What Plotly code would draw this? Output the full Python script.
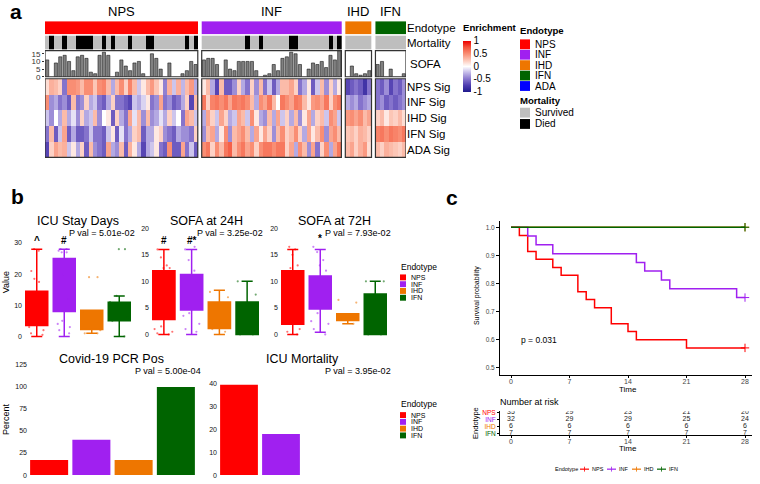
import plotly.graph_objects as go

W, H = 760, 484
FONT = "Liberation Sans, Arial, Helvetica, sans-serif"


def X(p):
    return p / W


def Y(p):
    return 1 - p / H


# ------------------------------------------------------------------ data
groups = ["NPS", "INF", "IHD", "IFN"]
colors = {"NPS": "#FF0000", "INF": "#A020F0", "IHD": "#EE7600", "IFN": "#006400", "ADA": "#0000FF"}
sig_names = ["NPS Sig", "INF Sig", "IHD Sig", "IFN Sig", "ADA Sig"]

# panel a : enrichment scores (rows = signatures, columns = patients)
enrich_nps = [
    [0.15, 0.35, 0.3, 0.2, -0.5, 0.5, 0.5, 0.45, 0.3, 0.5, 0.5, 0.25, 0.5, 0.55, 0.3, -0.3, 0.3, 0.5, 0.2, 0.55, 0.3, -0.2, 0.1, 0.3, 0.45, 0.25, 0.1, -0.45, 0.35, -0.2, 0.35, -0.25, 0.3, 0.45, -0.3],
    [0.5, -0.4, -0.3, -0.5, -0.4, -0.6, 0.3, -0.5, -0.4, 0.2, -0.3, -0.2, -0.5, -0.6, -0.3, 0.2, -0.5, -0.5, -0.6, -0.7, -0.2, -0.3, -0.15, 0.1, -0.5, -0.4, 0.4, -0.5, -0.4, -0.6, -0.5, -0.3, 0.2, -0.7, 0.3],
    [-0.2, -0.4, 0.0, -0.3, 0.3, -0.3, -0.1, -0.4, 0.2, -0.3, -0.2, 0.3, -0.4, 0.0, 0.1, -0.6, 0.2, -0.3, -0.5, 0.4, -0.1, 0.3, -0.4, 0.3, -0.4, -0.3, -0.1, -0.3, 0.2, -0.2, 0.0, -0.5, 0.4, 0.3, -0.2],
    [-0.5, 0.3, -0.6, -0.2, 0.4, -0.6, -0.3, -0.6, -0.6, -0.5, -0.2, -0.5, -0.5, -0.6, -0.2, 0.1, -0.6, -0.1, -0.5, -0.3, 0.2, 0.3, -0.6, -0.3, -0.3, 0.1, 0.2, -0.4, -0.5, -0.6, -0.3, -0.4, -0.4, -0.5, 0.2],
    [-0.7, 0.2, 0.4, 0.3, 0.35, -0.2, 0.1, -0.3, 0.2, -0.6, 0.3, -0.4, -0.5, -0.6, 0.4, -0.3, -0.4, 0.3, -0.6, 0.35, 0.1, -0.3, -0.7, -0.3, -0.2, 0.1, -0.5, -0.6, 0.5, -0.6, -0.6, 0.4, -0.5, -0.2, -0.6],
]
enrich_inf = [
    [0.1, 0.3, -0.3, -0.7, 0.3, -0.6, -0.6, -0.4, 0.2, -0.3, -0.5, 0.2, -0.4, 0.3, -0.5, -0.2, -0.6, -0.3, 0.3, 0.3, 0.4, 0.2, -0.5, -0.3, 0.1, -0.6, -0.2, 0.3, -0.4, 0.2, -0.3, 0.1],
    [0.6, 0.2, 0.55, 0.6, 0.5, 0.6, 0.4, 0.6, 0.55, 0.6, 0.5, 0.3, -0.3, 0.5, 0.4, 0.6, 0.3, 0.0, 0.6, 0.5, 0.4, 0.6, 0.55, 0.3, 0.1, 0.45, 0.5, 0.4, 0.6, 0.2, 0.5, 0.6],
    [-0.3, 0.4, 0.2, -0.2, 0.4, 0.2, -0.3, -0.2, 0.4, 0.3, -0.2, 0.5, 0.1, -0.3, -0.4, 0.3, -0.3, 0.4, -0.2, 0.2, -0.3, 0.3, -0.4, 0.1, 0.4, -0.3, 0.2, 0.3, -0.2, 0.5, 0.4, -0.2],
    [-0.4, 0.3, 0.4, -0.3, 0.1, 0.5, -0.4, 0.3, 0.4, 0.5, 0.3, -0.3, 0.4, 0.1, 0.4, 0.2, -0.4, 0.3, 0.5, 0.2, 0.3, 0.5, 0.2, -0.3, 0.4, 0.1, 0.3, 0.5, -0.4, 0.4, 0.5, 0.3],
    [0.5, 0.6, 0.2, 0.5, 0.3, 0.6, 0.7, 0.3, 0.5, 0.6, 0.4, 0.5, 0.2, 0.5, 0.6, 0.6, 0.5, 0.6, 0.6, 0.2, 0.4, -0.3, 0.5, 0.3, -0.4, 0.4, -0.5, 0.2, 0.5, -0.3, 0.4, 0.6],
]
enrich_ihd = [
    [-0.7, -0.6, -0.5, -0.6, -0.8, -0.5],
    [-0.3, -0.4, -0.3, -0.5, -0.4, -0.3],
    [0.45, 0.5, 0.4, 0.5, 0.3, 0.4],
    [0.25, 0.3, 0.2, 0.35, 0.3, 0.2],
    [0.3, 0.4, 0.2, 0.35, 0.45, 0.15],
]
enrich_ifn = [
    [-0.5, -0.6, -0.4, -0.7, -0.5, -0.6, -0.4],
    [-0.5, -0.4, -0.6, -0.5, -0.6, -0.5, -0.4],
    [0.2, 0.3, 0.1, 0.25, 0.2, 0.3, 0.15],
    [0.55, 0.6, 0.5, 0.6, 0.55, 0.5, 0.6],
    [0.3, 0.2, 0.35, 0.3, 0.25, 0.2, 0.3],
]
died_nps = [0, 1, 0, 0, 1, 0, 0, 1, 1, 1, 1, 0, 0, 1, 0, 1, 0, 0, 0, 1, 0, 0, 0, 1, 1, 0, 0, 0, 0, 0, 0, 0, 1, 0, 1]
died_inf = [0, 0, 0, 0, 0, 0, 0, 0, 0, 0, 1, 0, 0, 1, 0, 0, 0, 0, 0, 0, 1, 1, 0, 0, 0, 0, 0, 0, 0, 1, 0, 1]
died_ihd = [0, 0, 0, 0, 0, 0]
died_ifn = [0, 0, 0, 0, 0, 0, 0]
sofa_nps = [11, None, 9, 13, 14, 10, 4, 13, 14, 12, 3, 2, 14, 16, 14, None, 3, 11, 7, 4, 9, 10, 2, None, 15, 12, 5, None, 9, None, None, 2, 4, 10, 8]
sofa_inf = [11, 12, 12, 8, None, 11, 5, 4, 10, 10, 10, 10, 4, None, 1, 2, 8, 4, 12, 13, 16, 15, 8, None, 5, 9, 8, 10, 6, 14, 11, 17]
sofa_ihd = [None, 7, 2, 1, 2, 4]
sofa_ifn = [8, 10, None, 5, None, None, 2]

enrich = {"NPS": enrich_nps, "INF": enrich_inf, "IHD": enrich_ihd, "IFN": enrich_ifn}
died = {"NPS": died_nps, "INF": died_inf, "IHD": died_ihd, "IFN": died_ifn}
sofa = {"NPS": sofa_nps, "INF": sofa_inf, "IHD": sofa_ihd, "IFN": sofa_ifn}

# panel b : box plot summaries (order = groups)
icu_q1 = [3.5, 8, 2.2, 5]
icu_med = [7, 15, 5, 8]
icu_q3 = [14.5, 25, 8.4, 11]
icu_lo = [0, 0, 1, 0]
icu_hi = [28, 28, 8.4, 13]
icu_pts = {"NPS": [28, 27.5, 21, 18.5, 17.5, 14, 3, 2, 1, 0.5, 5, 8],
           "INF": [28, 28, 27.5, 27, 27, 5, 4, 3, 2, 1, 12, 20],
           "IHD": [19, 19, 8, 2, 1, 1],
           "IFN": [28, 28, 13, 11, 6, 5, 0]}
s24_q1 = [2.8, 4.6, 1.1, 0]
s24_med = [8, 8, 4, 3]
s24_q3 = [12, 11.3, 6.1, 6.1]
s24_lo = [0, 0, 0, 0]
s24_hi = [16, 16, 8.3, 10]
s24_pts = {"NPS": [16, 14.5, 13, 12.5, 12.5, 1, 1.5, 0.5, 0, 0.2],
           "INF": [16.5, 16, 14, 12, 11, 10, 4, 3.5, 2, 1, 0.5],
           "IHD": [7, 8, 1, 0.5],
           "IFN": [10, 7.5, 0, 0]}
s72_q1 = [1.9, 4.8, 2.6, 0]
s72_med = [7, 8, 3, 4]
s72_q3 = [12, 11, 3.9, 7.6]
s72_lo = [0, 0.4, 2, 0]
s72_hi = [16, 16, 3.9, 10]
s72_pts = {"NPS": [16.5, 16, 15, 13, 12.5, 9, 0, 0.5, 1],
           "INF": [16.5, 15.5, 14, 13, 12, 4, 2.5, 2, 1, 0],
           "IHD": [6, 6.5, 3, 2],
           "IFN": [10, 10, 0, 0]}
covid_pct = [17, 40, 17, 100]
mort_pct = [39.5, 18, 0, 0]

# panel c : Kaplan-Meier
km_time = {"NPS": [0, 1, 2, 3, 5, 6, 8, 9, 10, 12, 14, 15, 21, 28],
           "INF": [0, 2, 3, 5, 15, 16, 18, 19, 27, 28],
           "IHD": [0, 28],
           "IFN": [0, 28]}
km_surv = {"NPS": [1, 0.971, 0.914, 0.886, 0.857, 0.829, 0.771, 0.743, 0.714, 0.657, 0.629, 0.600, 0.571, 0.571],
           "INF": [1, 0.969, 0.938, 0.906, 0.875, 0.844, 0.812, 0.781, 0.750, 0.750],
           "IHD": [1, 1],
           "IFN": [1, 1]}
risk_times = [0, 7, 14, 21, 28]
risk_counts = {"NPS": [35, 29, 23, 21, 20],
               "INF": [32, 29, 29, 25, 24],
               "IHD": [6, 6, 6, 6, 6],
               "IFN": [7, 7, 7, 7, 7]}

# ------------------------------------------------------------------ helpers
def rng(dom_top, dom_bot, v0, p0, v1, p1):
    s = (p0 - p1) / (v1 - v0)
    return [v0 - (dom_bot - p0) / s, v0 + (p0 - dom_top) / s]


def xrng(dom_l, dom_r, v0, p0, v1, p1):
    s = (p1 - p0) / (v1 - v0)
    return [v0 - (p0 - dom_l) / s, v0 + (dom_r - p0) / s]


annotations = []
shapes = []


def txt(text, x, y, size, xanchor="center", yanchor="middle", color="#000000", bold=False, angle=0):
    annotations.append(dict(text=f"<b>{text}</b>" if bold else text, x=X(x), y=Y(y), xref="paper", yref="paper",
                            xanchor=xanchor, yanchor=yanchor, showarrow=False, textangle=angle,
                            font=dict(size=size, color=color, family=FONT), borderpad=0))


def rect(x0, y0, x1, y1, color, line=None):
    shapes.append(dict(type="rect", xref="paper", yref="paper", x0=X(x0), x1=X(x1), y0=Y(y1), y1=Y(y0),
                       fillcolor=color, line=dict(width=0) if line is None else line))


fig = go.Figure()

# ------------------------------------------------------------------ panel a
gap = 0.9
offsets = {}
start = 0
for g in groups:
    offsets[g] = start
    start += len(died[g]) + gap
total = start - gap

for g in groups:
    n = len(died[g])
    xs = [offsets[g] + i for i in range(n)]
    fig.add_trace(go.Heatmap(z=enrich[g], x=xs, y=sig_names, coloraxis="coloraxis", xaxis="x", yaxis="y",
                             hoverinfo="skip"))
    fig.add_trace(go.Heatmap(z=[died[g]], x=xs, y=["Mortality"], xaxis="x", yaxis="y3", zmin=0, zmax=1,
                             colorscale=[[0, "#BEBEBE"], [1, "#000000"]], showscale=False, hoverinfo="skip"))
    fig.add_trace(go.Heatmap(z=[[1] * n], x=xs, y=["Endotype"], xaxis="x", yaxis="y4", zmin=0, zmax=1,
                             colorscale=[[0, colors[g]], [1, colors[g]]], showscale=False, hoverinfo="skip"))
    fig.add_trace(go.Bar(x=xs, y=sofa[g], xaxis="x", yaxis="y2", width=0.72,
                         marker=dict(color="#808080", line=dict(color="#1a1a1a", width=0.6)), hoverinfo="skip"))
    x0, x1 = offsets[g] - 0.5, offsets[g] + n - 0.5
    for yr in ("y domain", "y2 domain"):
        shapes.append(dict(type="rect", xref="x", yref=yr, x0=x0, x1=x1, y0=0, y1=1,
                           line=dict(color="#333333", width=1.2), fillcolor="rgba(0,0,0,0)"))
    annotations.append(dict(text=g, x=(x0 + x1) / 2, xref="x", y=Y(8.5), yref="paper", showarrow=False,
                            xanchor="center", yanchor="middle", font=dict(size=13, family=FONT, color="#000")))

txt("SOFA", 409, 62, 11.5, xanchor="left")

# colorbar title
txt("Enrichment", 462, 25, 9.6, xanchor="left", bold=True)

# panel a legends
txt("Endotype", 519, 28, 9.6, xanchor="left", bold=True)
for i, g in enumerate(["NPS", "INF", "IHD", "IFN", "ADA"]):
    c = 42 + 10.6 * i
    rect(520, c - 5, 530, c + 5, colors[g])
    txt(g, 534, c, 10, xanchor="left")
txt("Mortality", 519, 99, 9.6, xanchor="left", bold=True)
for i, (lab, col) in enumerate([("Survived", "#BEBEBE"), ("Died", "#000000")]):
    c = 111.5 + 11.5 * i
    rect(520, c - 5, 530, c + 5, col)
    txt(lab, 534, c, 10, xanchor="left")

# ------------------------------------------------------------------ panel b
box_panels = [
    ("x2", "y5", icu_q1, icu_med, icu_q3, icu_lo, icu_hi, icu_pts),
    ("x3", "y6", s24_q1, s24_med, s24_q3, s24_lo, s24_hi, s24_pts),
    ("x4", "y7", s72_q1, s72_med, s72_q3, s72_lo, s72_hi, s72_pts),
]
for xa, ya, q1, med, q3, lo, hi, pts in box_panels:
    for i, g in enumerate(groups):
        fig.add_trace(go.Box(x=[g], q1=[q1[i]], median=[med[i]], q3=[q3[i]], lowerfence=[lo[i]],
                             upperfence=[hi[i]], xaxis=xa, yaxis=ya, width=0.8, boxpoints=False,
                             fillcolor=colors[g], line=dict(color=colors[g], width=1.5), hoverinfo="skip"))
        fig.add_trace(go.Box(x=[g] * len(pts[g]), y=pts[g], xaxis=xa, yaxis=ya, width=0.8, boxpoints="all",
                             jitter=1, pointpos=0, fillcolor="rgba(0,0,0,0)",
                             line=dict(color="rgba(0,0,0,0)", width=0),
                             marker=dict(color=colors[g], size=2.2, opacity=0.55), hoverinfo="skip"))

for xa, ya, vals in [("x5", "y8", covid_pct), ("x6", "y9", mort_pct)]:
    fig.add_trace(go.Bar(x=groups, y=vals, xaxis=xa, yaxis=ya, width=0.9,
                         marker=dict(color=[colors[g] for g in groups], line=dict(width=0)), hoverinfo="skip"))

# titles / p values
txt("ICU Stay Days", 78, 222, 12.5)
txt("SOFA at 24H", 206, 222, 12.5)
txt("SOFA at 72H", 334, 222, 12.5)
txt("Covid-19 PCR Pos", 112, 362, 12.5)
txt("ICU Mortality", 302, 362, 12.5)
txt("P val = 5.01e-02", 136, 233.5, 9, xanchor="right")
txt("P val = 3.25e-02", 264, 233.5, 9, xanchor="right")
txt("P val = 7.93e-02", 392, 233.5, 9, xanchor="right")
txt("P val = 5.00e-04", 202, 374, 9, xanchor="right")
txt("P val = 3.95e-02", 392, 374, 9, xanchor="right")
for xa, g, s, yy in [("x2", "NPS", "^", 241), ("x2", "INF", "#", 241), ("x3", "NPS", "#", 241),
                     ("x3", "INF", "#*", 241), ("x4", "INF", "*", 239)]:
    annotations.append(dict(text=f"<b>{s}</b>", x=g, xref=xa, y=Y(yy), yref="paper", showarrow=False,
                            xanchor="center", yanchor="middle", font=dict(size=10, family=FONT, color="#000")))
txt("Value", 6, 284, 9, angle=-90)
txt("Percent", 6, 423, 9, angle=-90)

for ytitle in (268, 408):
    txt("Endotype", 400, ytitle, 8.5, xanchor="left")
    for i, g in enumerate(groups):
        c = ytitle + 11 + 6.9 * i
        rect(400, c - 3, 406, c + 3, colors[g])
        txt(g, 410, c, 7, xanchor="left")

# ------------------------------------------------------------------ panel c
for g in ["NPS", "INF", "IHD", "IFN"]:
    fig.add_trace(go.Scatter(x=km_time[g], y=km_surv[g], mode="lines", line=dict(color=colors[g], width=1.5, shape="hv"),
                             xaxis="x7", yaxis="y10", hoverinfo="skip"))
    fig.add_trace(go.Scatter(x=[km_time[g][-1]], y=[km_surv[g][-1]], mode="markers", xaxis="x7", yaxis="y10",
                             marker=dict(symbol="cross-thin", size=6, line=dict(color=colors[g], width=1)),
                             hoverinfo="skip"))
    fig.add_trace(go.Scatter(x=risk_times, y=[g] * len(risk_times), text=[str(v) for v in risk_counts[g]],
                             mode="text", textfont=dict(size=7, family=FONT, color="#222"),
                             xaxis="x8", yaxis="y11", hoverinfo="skip"))

txt("p = 0.031", 520, 343, 8.5, xanchor="left")
txt("Survival probability", 477, 298, 7, angle=-90)
txt("Time", 628, 393, 8)
txt("Number at risk", 499, 406, 9, xanchor="left")
txt("Endotype", 476, 427, 7.5, angle=-90)
txt("Time", 628, 453, 8)

# bottom KM legend
txt("Endotype", 554, 474, 5.5, xanchor="left")
for g, lx, tx in [("NPS", 580, 591), ("INF", 607, 618), ("IHD", 632, 643), ("IFN", 657, 668)]:
    shapes.append(dict(type="line", xref="paper", yref="paper", x0=X(lx), x1=X(lx + 9), y0=Y(474), y1=Y(474),
                       line=dict(color=colors[g], width=1.2)))
    shapes.append(dict(type="line", xref="paper", yref="paper", x0=X(lx + 4.5), x1=X(lx + 4.5), y0=Y(471.5), y1=Y(476.5),
                       line=dict(color=colors[g], width=0.8)))
    txt(g, tx, 474, 5.5, xanchor="left")

# panel labels
txt("a", 16, 9, 21, bold=True)
txt("b", 17, 197, 21, bold=True)
txt("c", 452, 198, 21, bold=True)

# ------------------------------------------------------------------ axes
tick_small = dict(size=7, family=FONT, color="#111111")
hidden_x = dict(showticklabels=False, showgrid=False, zeroline=False, showline=False, ticks="",
                type="category", categoryorder="array", categoryarray=groups, range=[-0.5, 3.5], fixedrange=True)


def ybox(anchor, dom_top, dom_bot, r, tickvals):
    return dict(anchor=anchor, domain=[Y(dom_bot), Y(dom_top)], range=r, tickvals=tickvals, showgrid=False,
                zeroline=False, showline=False, ticks="", tickfont=tick_small)


colorscale = [[0, "#1F1A8C"], [0.125, "#4B3AAE"], [0.25, "#8573CC"], [0.375, "#C0B6E7"], [0.5, "#FFFFFF"],
              [0.625, "#FCC6B6"], [0.75, "#F98E74"], [0.875, "#F4563E"], [1, "#EE0000"]]

km_x = dict(range=xrng(500, 752, 0, 511, 28, 745), tickvals=risk_times, showline=True, linecolor="#000",
            linewidth=1, ticks="outside", ticklen=2, tickcolor="#000", showgrid=False, zeroline=False,
            ticklabelstandoff=-2, tickfont=dict(size=7, family=FONT, color="#444"))

layout = dict(
    width=W, height=H, margin=dict(l=0, r=0, t=0, b=0), paper_bgcolor="white", plot_bgcolor="white",
    showlegend=False, boxmode="overlay", barmode="overlay", font=dict(family=FONT),
    coloraxis=dict(colorscale=colorscale, cmin=-1, cmax=1,
                   colorbar=dict(x=X(463), xanchor="left", y=Y(90), yanchor="bottom", len=51, lenmode="pixels",
                                 thickness=8, thicknessmode="pixels", xpad=0, ypad=0, outlinewidth=0,
                                 tickvals=[1, 0.5, 0, -0.5, -1], ticktext=["1", "0.5", "0", "-0.5", "-1"],
                                 ticks="", tickfont=dict(size=10, family=FONT, color="#000"))),
    xaxis=dict(domain=[X(45), X(406)], range=[-0.5, total - 0.5], anchor="y", showticklabels=False, ticks="",
               showgrid=False, zeroline=False, showline=False),
    yaxis=dict(domain=[Y(157), Y(77)], anchor="x", side="right", type="category", autorange="reversed",
               showgrid=False, zeroline=False, ticks="", tickfont=dict(size=11.5, family=FONT, color="#000")),
    yaxis2=dict(domain=[Y(75), Y(48.5)], anchor="x", range=[0, 17], tickvals=[0, 5, 10, 15], showgrid=False,
                zeroline=False, ticks="outside", ticklen=2, tickcolor="#333",
                tickfont=dict(size=8, family=FONT, color="#333")),
    yaxis3=dict(domain=[Y(47.5), Y(33)], anchor="x", side="right", type="category", showgrid=False, zeroline=False,
                ticks="", tickfont=dict(size=11.5, family=FONT, color="#000")),
    yaxis4=dict(domain=[Y(32), Y(18.5)], anchor="x", side="right", type="category", showgrid=False, zeroline=False,
                ticks="", tickfont=dict(size=11.5, family=FONT, color="#000")),
    xaxis2=dict(hidden_x, domain=[X(23), X(133)], anchor="y5"),
    xaxis3=dict(hidden_x, domain=[X(150), X(261)], anchor="y6"),
    xaxis4=dict(hidden_x, domain=[X(279), X(389)], anchor="y7"),
    xaxis5=dict(hidden_x, domain=[X(28), X(197)], anchor="y8"),
    xaxis6=dict(hidden_x, domain=[X(218), X(386)], anchor="y9"),
    yaxis5=ybox("x2", 226, 342, rng(226, 342, 0, 339, 30, 244), [0, 10, 20, 30]),
    yaxis6=ybox("x3", 226, 342, rng(226, 342, 0, 337, 20, 229), [0, 5, 10, 15, 20]),
    yaxis7=ybox("x4", 226, 342, rng(226, 342, 0, 337, 20, 229), [0, 5, 10, 15, 20]),
    yaxis8=ybox("x5", 364, 482, rng(364, 482, 0, 480, 125, 368), [0, 25, 50, 75, 100, 125]),
    yaxis9=ybox("x6", 364, 482, rng(364, 482, 0, 480, 40, 387), [0, 10, 20, 30, 40]),
    xaxis7=dict(km_x, domain=[X(500), X(752)], anchor="y10"),
    yaxis10=dict(domain=[Y(378), Y(222)], anchor="x7", range=rng(222, 378, 0.5, 371, 1.0, 228),
                 tickvals=[0.5, 0.6, 0.7, 0.8, 0.9, 1.0], ticktext=["0.5", "0.6", "0.7", "0.8", "0.9", "1.0"],
                 showline=True, linecolor="#000", linewidth=1, ticks="outside", ticklen=3, tickcolor="#000",
                 showgrid=False, zeroline=False, tickfont=dict(size=6.5, family=FONT, color="#444")),
    xaxis8=dict(km_x, domain=[X(500), X(752)], anchor="y11"),
    yaxis11=dict(domain=[Y(439), Y(415)], anchor="x8", type="category", categoryorder="array",
                 categoryarray=groups, autorange="reversed", tickvals=groups,
                 ticktext=[f'<span style="color:{colors[g]}">{g}</span>' for g in groups],
                 showline=True, linecolor="#000", linewidth=1, ticks="outside", ticklen=2, tickcolor="#000",
                 showgrid=False, zeroline=False, tickfont=dict(size=6.5, family=FONT)),
    annotations=annotations, shapes=shapes,
)
fig.update_layout(**layout)
fig.write_html("out.html", config={"displayModeBar": False},
               post_script="document.body.style.margin='0px';document.body.style.padding='0px';")
